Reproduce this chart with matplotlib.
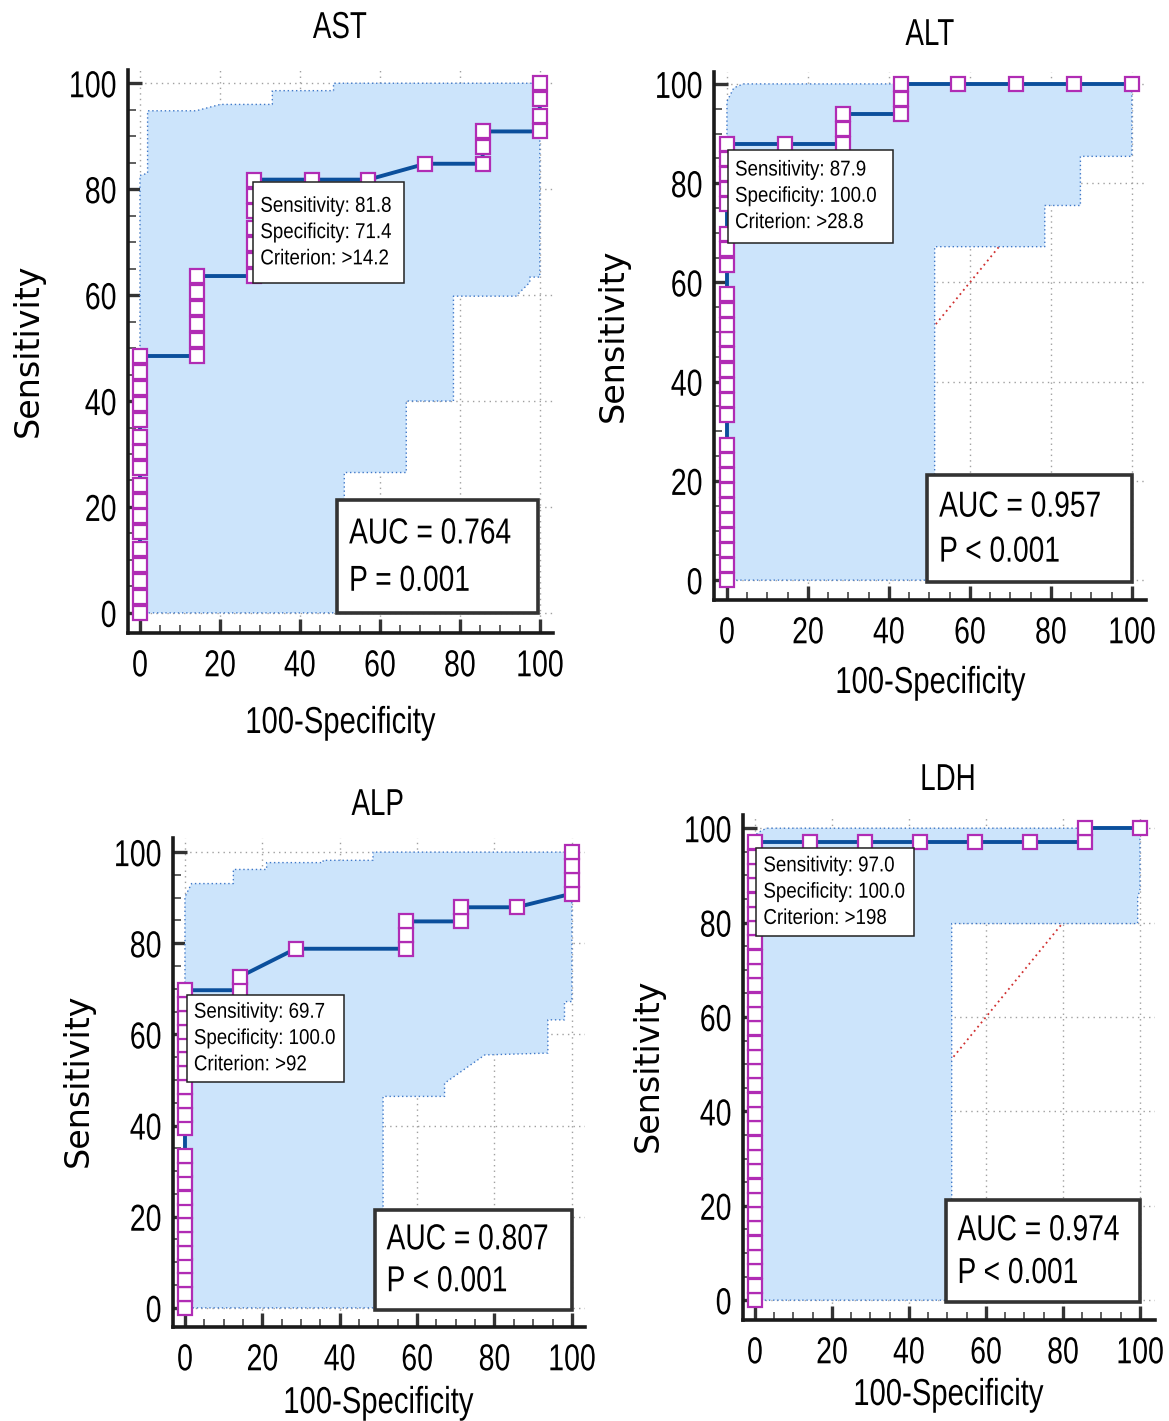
import matplotlib
matplotlib.use('Agg')
import matplotlib.pyplot as plt
from matplotlib.patches import Rectangle
from matplotlib.ticker import MultipleLocator
from matplotlib.patheffects import AbstractPathEffect
from matplotlib.transforms import Affine2D

#no narrow font here, so squeeze Liberation Sans sideways instead
mainFont = 'Liberation Sans'

#AST roc curve (100-specificity, sensitivity)
astFpr = [0, 0, 0, 0, 0, 0, 0, 0, 0, 0, 0, 0, 0, 0, 0, 0, 0,
          14.3, 14.3, 14.3, 14.3, 14.3, 14.3,
          28.6, 28.6, 28.6, 28.6, 28.6, 28.6, 28.6,
          42.9, 57.1, 71.4, 85.7, 85.7, 85.7, 100, 100, 100, 100]
astTpr = [0, 3.0, 6.1, 9.1, 12.1, 15.2, 18.2, 21.2, 24.2, 27.3, 30.3, 33.3, 36.4, 39.4, 42.4, 45.5, 48.5,
          48.5, 51.5, 54.5, 57.6, 60.6, 63.6,
          63.6, 66.7, 69.7, 72.7, 75.8, 78.8, 81.8,
          81.8, 81.8, 84.8, 84.8, 87.9, 90.9, 90.9, 93.9, 97.0, 100]
#AST confidence band
astUpX = [0, 0, 1.9, 1.9, 14.0, 20.1, 33.1, 33.1, 48.4, 48.4, 100]
astUpY = [0, 82.6, 83.0, 94.8, 94.8, 96.0, 96.0, 98.6, 98.6, 100, 100]
astLowX = [0, 51.1, 51.1, 66.6, 66.6, 78.4, 78.4, 94.0, 97.5, 97.5, 100, 100]
astLowY = [0, 0, 26.5, 26.5, 40.0, 40.0, 59.8, 59.8, 62.4, 63.4, 63.4, 100]

#ALT roc curve
altFpr = [0, 0, 0, 0, 0, 0, 0, 0, 0, 0, 0, 0, 0, 0, 0, 0, 0, 0, 0, 0, 0, 0, 0, 0, 0, 0, 0,
          14.3, 28.6, 28.6, 28.6, 42.9, 42.9, 42.9, 57.1, 71.4, 85.7, 100]
altTpr = [0, 3.0, 6.1, 9.1, 12.1, 15.2, 18.2, 21.2, 24.2, 27.3, 33.3, 36.4, 39.4, 42.4, 45.5, 48.5,
          51.5, 54.5, 57.6, 63.6, 66.7, 69.7, 75.8, 78.8, 81.8, 84.8, 87.9,
          87.9, 87.9, 90.9, 93.9, 93.9, 97.0, 100, 100, 100, 100, 100]
altUpX = [0, 0, 1.7, 4.0, 100]
altUpY = [0, 96.5, 99.2, 100, 100]
altLowX = [0, 51.3, 51.3, 78.5, 78.5, 87.3, 87.3, 100, 100]
altLowY = [0, 0, 67.2, 67.2, 75.5, 75.5, 85.4, 85.4, 100]

#ALP roc curve
alpFpr = [0, 0, 0, 0, 0, 0, 0, 0, 0, 0, 0, 0, 0, 0, 0, 0, 0, 0, 0, 0, 0, 0, 0,
          14.3, 14.3, 28.6, 57.1, 57.1, 57.1, 71.4, 71.4, 85.7, 100, 100, 100, 100]
alpTpr = [0, 3.0, 6.1, 9.1, 12.1, 15.2, 18.2, 21.2, 24.2, 27.3, 30.3, 33.3, 39.4, 42.4, 45.5,
          48.5, 51.5, 54.5, 57.6, 60.6, 63.6, 66.7, 69.7,
          69.7, 72.7, 78.8, 78.8, 81.8, 84.8, 84.8, 87.9, 87.9, 90.9, 93.9, 97.0, 100]
alpUpX = [0, 0, 1.7, 12.5, 12.5, 21.1, 21.1, 35.7, 35.7, 48.6, 48.6, 100]
alpUpY = [0, 90.2, 93.1, 93.1, 96.2, 96.2, 97.7, 97.7, 98.2, 98.2, 100, 100]
alpLowX = [0, 51.2, 51.2, 67.1, 67.1, 77.5, 93.8, 93.8, 98.1, 98.1, 100, 100]
alpLowY = [0, 0, 46.4, 46.4, 49.3, 55.5, 55.9, 63.2, 63.2, 67.2, 67.2, 100]

#LDH roc curve
ldhFpr = [0, 0, 0, 0, 0, 0, 0, 0, 0, 0, 0, 0, 0, 0, 0, 0, 0, 0, 0, 0, 0, 0, 0, 0, 0, 0, 0, 0, 0, 0, 0, 0, 0,
          14.3, 28.6, 42.9, 57.1, 71.4, 85.7, 85.7, 100]
ldhTpr = [0, 3.0, 6.1, 9.1, 12.1, 15.2, 18.2, 21.2, 24.2, 27.3, 30.3, 33.3, 36.4, 39.4, 42.4, 45.5,
          48.5, 51.5, 54.5, 57.6, 60.6, 63.6, 66.7, 69.7, 72.7, 75.8, 78.8, 81.8, 84.8, 87.9, 90.9,
          93.9, 97.0,
          97.0, 97.0, 97.0, 97.0, 97.0, 97.0, 100, 100]
ldhUpX = [0, 0, 1.5, 3.0, 100]
ldhUpY = [0, 98.5, 99.4, 100, 100]
ldhLowX = [0, 51.1, 51.1, 99.4, 99.4, 100, 100]
ldhLowY = [0, 0, 79.8, 79.8, 85.3, 87.0, 100]

#text for the boxes
titles = ['AST', 'ALT', 'ALP', 'LDH']
cutoffTexts = ['Sensitivity: 81.8\nSpecificity: 71.4\nCriterion: >14.2',
               'Sensitivity: 87.9\nSpecificity: 100.0\nCriterion: >28.8',
               'Sensitivity: 69.7\nSpecificity: 100.0\nCriterion: >92',
               'Sensitivity: 97.0\nSpecificity: 100.0\nCriterion: >198']
aucTexts = ['AUC = 0.764', 'AUC = 0.957', 'AUC = 0.807', 'AUC = 0.974']
pTexts = ['P = 0.001', 'P < 0.001', 'P < 0.001', 'P < 0.001']

bandColour = '#cce4fb'
bandEdge = '#3f78c8'
lineColour = '#0b4f9c'
markerColour = '#b02cb4'

W, H = 1169, 1421
fig = plt.figure(figsize=(W/100, H/100), dpi=100)


#path effect that squashes text along its own direction
class Squeeze(AbstractPathEffect):
    def __init__(self, sx, anchor='center'):
        super().__init__()
        self.sx = sx
        self.anchor = anchor

    def draw_path(self, renderer, gc, tpath, affine, rgbFace=None):
        ext = tpath.get_extents()
        if self.anchor == 'left':
            cx = 0
        elif self.anchor == 'right':
            cx = ext.x1
        else:
            cx = (ext.x0 + ext.x1) / 2
        squash = Affine2D().translate(-cx, 0).scale(self.sx, 1).translate(cx, 0)
        renderer.draw_path(gc, tpath, squash + affine, rgbFace)


#convert pixel box to figure fraction
def pixAxes(left, top, right, bottom):
    return fig.add_axes([left/W, 1-bottom/H, (right-left)/W, (bottom-top)/H])


def figText(x, y, text, sx=None, **kw):
    t = fig.text(x/W, 1-y/H, text, ha='center', va='center', **kw)
    if sx is not None:
        t.set_path_effects([Squeeze(sx)])


def drawRoc(ax, fpr, tpr, upX, upY, lowX, lowY, xlim, ylim, cutBox, cutText, aucBox, aucText, pText):
    ax.set_xlim(xlim)
    ax.set_ylim(ylim)
    ax.set_axisbelow(True)
    ax.grid(True, which='major', color='#a0a0a0', lw=1, ls=(0, (1, 3)))

    #reference diagonal, hidden by the band where they overlap
    ax.plot([0, 100], [0, 100], color='#d03030', ls=(0, (1, 2)), lw=1.3, zorder=1)

    #confidence band polygon
    bandX = upX + lowX[::-1]
    bandY = upY + lowY[::-1]
    ax.fill(bandX, bandY, color=bandColour, lw=0, zorder=2)
    ax.plot(bandX, bandY, color=bandEdge, ls=(0, (1, 2)), lw=1, zorder=2.2)

    #roc curve and the points
    ax.plot(fpr, tpr, color=lineColour, lw=2.8, zorder=3)
    ax.plot(fpr, tpr, ls='none', marker='s', ms=9.5, mfc='white', mec=markerColour, mew=1.6, zorder=4)

    #spines and ticks
    for side in ['top', 'right']:
        ax.spines[side].set_visible(False)
    for side in ['left', 'bottom']:
        ax.spines[side].set_linewidth(2.6)
        ax.spines[side].set_color('#1a1a1a')
    ax.set_xticks(range(0, 101, 20))
    ax.set_yticks(range(0, 101, 20))
    ax.xaxis.set_minor_locator(MultipleLocator(5))
    ax.yaxis.set_minor_locator(MultipleLocator(5))
    ax.tick_params(which='major', direction='in', length=10, width=2.4, color='#333333',
                   labelsize=27, labelfontfamily=mainFont)
    ax.tick_params(which='minor', direction='in', length=6, width=1.2, color='#444444')
    ax.tick_params(axis='x', which='major', pad=11)
    ax.tick_params(axis='y', which='major', pad=8)
    for lab in ax.get_xticklabels():
        lab.set_path_effects([Squeeze(0.76)])
    for lab in ax.get_yticklabels():
        lab.set_path_effects([Squeeze(0.76, 'right')])

    #cutoff box
    x0, y0, x1, y1 = cutBox
    ax.add_patch(Rectangle((x0, y1), x1-x0, y0-y1, fc='white', ec='#222222', lw=1.1, zorder=5))
    t = ax.text(x0 + 1.8, (y0+y1)/2, cutText, ha='left', va='center', fontsize=15.5,
                family=mainFont, linespacing=1.33, zorder=6)
    t.set_path_effects([Squeeze(0.87, 'left')])

    #auc box
    x0, y0, x1, y1 = aucBox
    ax.add_patch(Rectangle((x0, y1), x1-x0, y0-y1, fc='white', ec='#333333', lw=2.6, zorder=5))
    for txt, frac in [(aucText, 0.30), (pText, 0.72)]:
        t = ax.text(x0 + 3, y0 - (y0-y1)*frac, txt, ha='left', va='center', fontsize=26,
                    family=mainFont, zorder=6)
        t.set_path_effects([Squeeze(0.78, 'left')])


#AST top left
ax1 = pixAxes(128, 70, 553, 633)
drawRoc(ax1, astFpr, astTpr, astUpX, astUpY, astLowX, astLowY, (-3, 103.3), (-3.8, 102.5),
        (28.3, 81.3, 66.0, 62.3), cutoffTexts[0], (49.3, 21.3, 99.6, 0), aucTexts[0], pTexts[0])
#ALT top right
ax2 = pixAxes(714, 72, 1146, 600)
drawRoc(ax2, altFpr, altTpr, altUpX, altUpY, altLowX, altLowY, (-3.2, 103.5), (-4.0, 102.4),
        (0.2, 86.7, 41.0, 68.0), cutoffTexts[1], (49.4, 21.2, 100, -0.4), aucTexts[1], pTexts[1])
#ALP bottom left
ax3 = pixAxes(173, 838, 585, 1327)
drawRoc(ax3, alpFpr, alpTpr, alpUpX, alpUpY, alpLowX, alpLowY, (-3.1, 103.4), (-4.2, 103.1),
        (0.5, 68.6, 41.0, 49.6), cutoffTexts[2], (49.1, 21.5, 100, -0.4), aucTexts[2], pTexts[2])
#LDH bottom right
ax4 = pixAxes(743, 815, 1155, 1320)
drawRoc(ax4, ldhFpr, ldhTpr, ldhUpX, ldhUpY, ldhLowX, ldhLowY, (-3.1, 103.9), (-4.2, 102.8),
        (0.4, 95.8, 41.2, 77.1), cutoffTexts[3], (49.6, 21.2, 100, -0.4), aucTexts[3], pTexts[3])

#titles and axis labels
titlePos = [(340, 28), (930, 35), (378, 805), (948, 780)]
xlabPos = [(340, 723), (930, 683), (378, 1403), (948, 1395)]
ylabPos = [(28, 350), (613, 335), (78, 1080), (648, 1065)]
for i in range(4):
    figText(titlePos[i][0], titlePos[i][1], titles[i], sx=0.74, fontsize=27, family=mainFont)
    figText(xlabPos[i][0], xlabPos[i][1], '100-Specificity', sx=0.78, fontsize=27, family=mainFont)
    figText(ylabPos[i][0], ylabPos[i][1], 'Sensitivity', fontsize=24, family='DejaVu Sans', rotation=90)

fig.savefig('out.png', dpi=100)
